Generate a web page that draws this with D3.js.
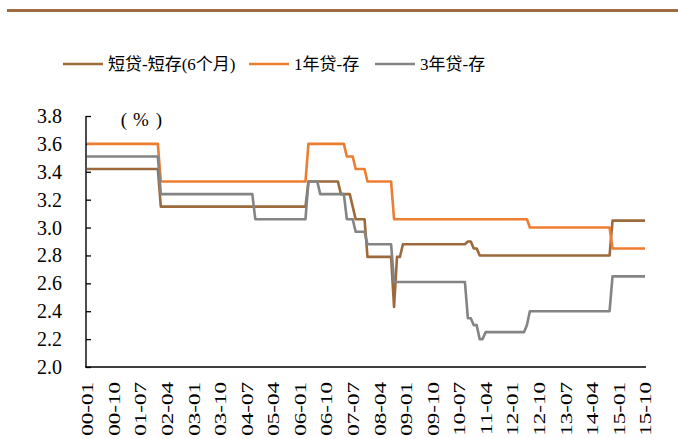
<!DOCTYPE html>
<html>
<head>
<meta charset="utf-8">
<script src="https://cdn.jsdelivr.net/npm/d3@7"></script>
<style>
  html, body { margin: 0; padding: 0; background: #fff; }
  svg { display: block; }
</style>
</head>
<body>
<svg id="chart" width="678" height="439"></svg>
<script>
// Loan–deposit benchmark spreads (%), stored as steps: [month the value takes effect, value]
const firstMonth = "2000-01";
const lastMonth = "2015-10";

const shortSpreadSteps = [
  ["2000-01", 3.42], ["2002-02", 3.15], ["2006-04", 3.33], ["2007-03", 3.24],
  ["2007-07", 3.15], ["2007-08", 3.06], ["2007-12", 2.79], ["2008-09", 2.43],
  ["2008-10", 2.79], ["2008-12", 2.88], ["2010-10", 2.90], ["2010-12", 2.85],
  ["2011-02", 2.80], ["2014-11", 3.05]
];
const oneYearSpreadSteps = [
  ["2000-01", 3.60], ["2002-02", 3.33], ["2006-04", 3.60], ["2007-05", 3.51],
  ["2007-08", 3.42], ["2007-12", 3.33], ["2008-09", 3.06], ["2012-07", 3.00],
  ["2014-11", 2.85]
];
const threeYearSpreadSteps = [
  ["2000-01", 3.51], ["2002-02", 3.24], ["2004-10", 3.06], ["2006-04", 3.33],
  ["2006-08", 3.24], ["2007-05", 3.06], ["2007-08", 2.97], ["2007-12", 2.88],
  ["2008-09", 2.61], ["2010-10", 2.35], ["2010-12", 2.30], ["2011-02", 2.20],
  ["2011-04", 2.25], ["2012-06", 2.30], ["2012-07", 2.40], ["2014-11", 2.65]
];

const seriesNames = ["短贷-短存(6个月)", "1年贷-存", "3年贷-存"];
const seriesColors = ["#9C6A3D", "#ED7D31", "#848484"];

const xTickLabels = ["00-01","00-10","01-07","02-04","03-01","03-10","04-07","05-04",
  "06-01","06-10","07-07","08-04","09-01","09-10","10-07","11-04","12-01","12-10",
  "13-07","14-04","15-01","15-10"];
const yTicks = [2.0, 2.2, 2.4, 2.6, 2.8, 3.0, 3.2, 3.4, 3.6, 3.8];

const serif = "'Liberation Serif', 'DejaVu Serif', 'Noto Sans CJK SC', serif";

// Monthly category keys
const parseMonth = d3.timeParse("%Y-%m");
const fmtKey = d3.timeFormat("%Y-%m");
const fmtShort = d3.timeFormat("%y-%m");
const months = d3.timeMonth.range(parseMonth(firstMonth), d3.timeMonth.offset(parseMonth(lastMonth), 1));
const monthKeys = months.map(fmtKey);

// Each month carries the value of the latest step in force
function expand(steps) {
  return monthKeys.map(k => {
    let v = steps[0][1];
    for (const [start, val] of steps) if (start <= k) v = val;
    return { key: k, value: v };
  });
}
const series = [shortSpreadSteps, oneYearSpreadSteps, threeYearSpreadSteps].map(expand);

const svg = d3.select("#chart").attr("font-family", serif);

// Brown rule across the top
svg.append("line")
  .attr("x1", 7).attr("x2", 678).attr("y1", 10.5).attr("y2", 10.5)
  .attr("stroke", "#9C6B3F").attr("stroke-width", 3);

const x = d3.scalePoint().domain(monthKeys).range([87, 645]);
const y = d3.scaleLinear().domain([2.0, 3.8]).range([367, 116]);

// Y axis with inward ticks
const yAxis = svg.append("g").attr("transform", "translate(86,0)")
  .call(d3.axisRight(y).tickValues(yTicks).tickSize(5).tickFormat(""));
yAxis.select(".domain").remove();
yAxis.selectAll(".tick line").attr("stroke", "#000").attr("stroke-width", 1.3);

svg.append("line").attr("x1", 86).attr("x2", 86).attr("y1", 116).attr("y2", 367.5)
  .attr("stroke", "#000").attr("stroke-width", 1.4);
svg.append("line").attr("x1", 85.3).attr("x2", 646).attr("y1", 367).attr("y2", 367)
  .attr("stroke", "#000").attr("stroke-width", 1.4);

svg.append("g").selectAll("text").data(yTicks).join("text")
  .attr("x", 62).attr("y", d => y(d)).attr("dy", "0.35em")
  .attr("text-anchor", "end").attr("font-size", 20)
  .attr("font-family", serif)
  .text(d => d3.format(".1f")(d));

// Unit label (full-width brackets around %)
const unit = svg.append("text").attr("y", 126).attr("font-size", 19).attr("font-family", serif)
  .attr("text-anchor", "middle");
unit.append("tspan").attr("x", 124).text("(");
unit.append("tspan").attr("x", 141).text("%");
unit.append("tspan").attr("x", 159).text(")");

// Rotated month labels every nine months
const labelSet = new Set(xTickLabels);
const tickMonths = monthKeys.filter((k, i) => labelSet.has(fmtShort(months[i])));
svg.append("g").selectAll("text").data(tickMonths).join("text")
  .attr("transform", k => `translate(${x(k) + 0.5},382) rotate(-90) scale(1.4,1)`)
  .attr("dy", "0.35em").attr("text-anchor", "end").attr("font-size", 16.5)
  .attr("font-family", serif)
  .text(k => fmtShort(parseMonth(k)));

// Spread lines
const line = d3.line().x(d => x(d.key)).y(d => y(d.value));
svg.append("g").selectAll("path").data(series).join("path")
  .attr("d", line).attr("fill", "none")
  .attr("stroke", (d, i) => seriesColors[i]).attr("stroke-width", 2.6)
  .attr("stroke-linejoin", "round");

// Legend
const legendX = [63, 249, 375];
const legend = svg.append("g").selectAll("g").data(seriesNames).join("g")
  .attr("transform", (d, i) => `translate(${legendX[i]},64)`);
legend.append("line").attr("x1", 0).attr("x2", 40).attr("y1", 0).attr("y2", 0)
  .attr("stroke", (d, i) => seriesColors[i]).attr("stroke-width", 2.6);
legend.append("text").attr("x", 45).attr("y", 6).attr("font-size", 17)
  .attr("font-family", serif)
  .text(d => d);
</script>
</body>
</html>
